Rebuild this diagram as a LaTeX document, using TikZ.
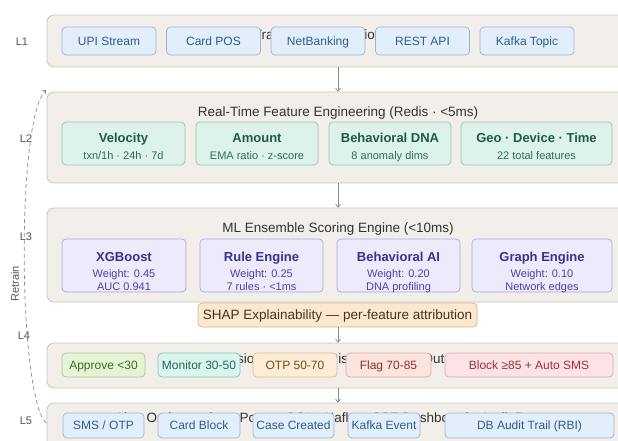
\documentclass[tikz,border=0pt]{standalone}
\usepackage{fontspec}
\setmainfont{Liberation Sans}
\usetikzlibrary{arrows.meta}
\definecolor{layfill}{HTML}{F2EFEA}
\definecolor{laybd}{HTML}{C8C4BC}
\definecolor{bluefill}{HTML}{E3EEFB}
\definecolor{bluebd}{HTML}{9BB4D4}
\definecolor{bluetx}{HTML}{2E5C92}
\definecolor{grnfill}{HTML}{DDF3EA}
\definecolor{grnbd}{HTML}{8FC7AF}
\definecolor{grntx}{HTML}{1F5B44}
\definecolor{grnsub}{HTML}{2F6E56}
\definecolor{purfill}{HTML}{ECEAFB}
\definecolor{purbd}{HTML}{ABA6DB}
\definecolor{purtx}{HTML}{38328F}
\definecolor{pursub}{HTML}{4A44A6}
\definecolor{shapfill}{HTML}{FCE8D1}
\definecolor{shapbd}{HTML}{D8B483}
\definecolor{shaptx}{HTML}{4A3416}
\definecolor{apfill}{HTML}{E6F3D6}\definecolor{apbd}{HTML}{A4C889}\definecolor{aptx}{HTML}{3E6A1F}
\definecolor{mofill}{HTML}{DCF4EE}\definecolor{mobd}{HTML}{80C5B1}\definecolor{motx}{HTML}{1D6957}
\definecolor{otfill}{HTML}{FDECD8}\definecolor{otbd}{HTML}{DFBD8F}\definecolor{ottx}{HTML}{7B4B12}
\definecolor{flfill}{HTML}{FCE4DF}\definecolor{flbd}{HTML}{DFA99F}\definecolor{fltx}{HTML}{8F3023}
\definecolor{blfill}{HTML}{FCE3E5}\definecolor{blbd}{HTML}{E2A7AC}\definecolor{bltx}{HTML}{9E2F39}
\definecolor{titletx}{HTML}{333333}
\definecolor{lbltx}{HTML}{555555}
\definecolor{arr}{HTML}{8A8A8A}
\begin{document}
\begin{tikzpicture}[x=1pt,y=-1pt,
  layer/.style={draw=laybd, fill=layfill, rounded corners=7pt, line width=0.8pt, inner sep=0pt, minimum width=582pt},
  ltitle/.style={text=titletx, font=\fontsize{13.5}{15}\selectfont, inner sep=0pt, anchor=base},
  chip/.style={rounded corners=4pt, line width=0.7pt, inner sep=0pt, text height=8.6pt, text depth=0pt, font=\fontsize{12}{14}\selectfont},
  bluech/.style={chip, draw=bluebd, fill=bluefill, text=bluetx},
  grnch/.style={chip, draw=grnbd, fill=grnfill},
  purch/.style={chip, draw=purbd, fill=purfill},
  gtitle/.style={inner sep=0pt, anchor=base, text=grntx, font=\bfseries\fontsize{13}{15}\selectfont},
  gsub/.style={inner sep=0pt, anchor=base, text=grnsub, font=\fontsize{11}{13}\selectfont},
  ptitle/.style={inner sep=0pt, anchor=base, text=purtx, font=\bfseries\fontsize{13}{15}\selectfont},
  psub/.style={inner sep=0pt, anchor=base, text=pursub, font=\fontsize{11}{13}\selectfont},
  lbl/.style={inner sep=0pt, text=lbltx, font=\fontsize{11}{13}\selectfont},
  flow/.style={draw=arr, line width=0.7pt, -{Straight Barb[length=3pt,width=5pt]}},
  retrain/.style={draw=arr, line width=0.7pt, dash pattern=on 4pt off 3pt, -{Straight Barb[length=3pt,width=5pt]}}
]
\useasboundingbox (0,0) rectangle (618,440);
% layers
\node[layer, minimum height=52pt] (c1) at (338,41) {};
\node[layer, minimum height=91pt] (c2) at (338,137.5) {};
\node[layer, minimum height=94pt] (c3) at (338,255) {};
\node[layer, minimum height=45pt] (c4) at (338,365.5) {};
\node[layer, minimum height=64pt] (c5) at (338,435) {};
% layer titles
\node[ltitle] (t1) at (337,39.5) {Transaction Ingestion Layer};
\node[ltitle] (t2) at (338,116.5) {Real-Time Feature Engineering (Redis · <5ms)};
\node[ltitle] (t3) at (338,232.5) {ML Ensemble Scoring Engine (<10ms)};
\node[ltitle, anchor=base west] (t4) at (210,363.5) {Decision Engine — Risk Threshold Output};
\node[ltitle, anchor=base west] (t5) at (115,422.5) {Alert Orchestration · PostgreSQL · Kafka · SSE Dashboard · Audit Report};
% L1 chips
\node[bluech, minimum width=94pt, minimum height=28pt] (upi) at (109,41) {UPI Stream};
\node[bluech, minimum width=94pt, minimum height=28pt] (pos) at (213.5,41) {Card POS};
\node[bluech, minimum width=94pt, minimum height=28pt] (net) at (318,41) {NetBanking};
\node[bluech, minimum width=94pt, minimum height=28pt] (rest) at (422.5,41) {REST API};
\node[bluech, minimum width=94pt, minimum height=28pt] (kin) at (527,41) {Kafka Topic};
% L2 chips
\node[grnch, minimum width=123pt, minimum height=43pt] (vel) at (123.5,143.5) {};
\node[grnch, minimum width=122pt, minimum height=43pt] (amt) at (257,143.5) {};
\node[grnch, minimum width=122pt, minimum height=43pt] (dna) at (390,143.5) {};
\node[grnch, minimum width=151pt, minimum height=43pt] (geo) at (536.5,143.5) {};
\node[gtitle] (velt) at (123.5,142.5) {Velocity};
\node[gsub] (vels) at (123.5,159) {txn/1h · 24h · 7d};
\node[gtitle] (amtt) at (257,142.5) {Amount};
\node[gsub] (amts) at (257,159) {EMA ratio · z-score};
\node[gtitle] (dnat) at (390,142.5) {Behavioral DNA};
\node[gsub] (dnas) at (390,159) {8 anomaly dims};
\node[gtitle] (geot) at (536.5,142.5) {Geo · Device · Time};
\node[gsub] (geos) at (536.5,159) {22 total features};
% L3 chips
\node[purch, minimum width=124pt, minimum height=53pt] (xgb) at (124,265.5) {};
\node[purch, minimum width=123pt, minimum height=53pt] (rule) at (261.5,265.5) {};
\node[purch, minimum width=123pt, minimum height=53pt] (bai) at (398.5,265.5) {};
\node[purch, minimum width=140pt, minimum height=53pt] (graph) at (542,265.5) {};
\node[ptitle] (xgbt) at (124,261.5) {XGBoost};
\node[psub] (xgbw) at (124,277) {Weight: 0.45};
\node[psub] (xgbs) at (124,290) {AUC 0.941};
\node[ptitle] (rulet) at (261.5,261.5) {Rule Engine};
\node[psub] (rulew) at (261.5,277) {Weight: 0.25};
\node[psub] (rules) at (261.5,290) {7 rules · <1ms};
\node[ptitle] (bait) at (398.5,261.5) {Behavioral AI};
\node[psub] (baiw) at (398.5,277) {Weight: 0.20};
\node[psub] (bais) at (398.5,290) {DNA profiling};
\node[ptitle] (grapht) at (542,261.5) {Graph Engine};
\node[psub] (graphw) at (542,277) {Weight: 0.10};
\node[psub] (graphs) at (542,290) {Network edges};
% SHAP
\node[chip, draw=shapbd, fill=shapfill, text=shaptx, font=\fontsize{13.5}{15}\selectfont, text height=9.6pt, minimum width=279pt, minimum height=24pt] (shap) at (337.5,315) {SHAP Explainability — per-feature attribution};
% L4 chips
\node[chip, draw=apbd, fill=apfill, text=aptx, minimum width=83pt, minimum height=24pt] (appr) at (103.5,365) {Approve <30};
\node[chip, draw=mobd, fill=mofill, text=motx, minimum width=82pt, minimum height=24pt] (mon) at (199,365) {Monitor 30-50};
\node[chip, draw=otbd, fill=otfill, text=ottx, minimum width=84pt, minimum height=24pt] (otp) at (295,365) {OTP 50-70};
\node[chip, draw=flbd, fill=flfill, text=fltx, minimum width=85pt, minimum height=24pt] (flag) at (388.5,365) {Flag 70-85};
\node[chip, draw=blbd, fill=blfill, text=bltx, minimum width=168pt, minimum height=24pt] (block) at (529,365) {Block ≥85 + Auto SMS};
% L5 chips
\node[bluech, minimum width=81pt, minimum height=25pt] (sms) at (103.5,425.5) {SMS / OTP};
\node[bluech, minimum width=82pt, minimum height=25pt] (cblk) at (199,425.5) {Card Block};
\node[bluech, minimum width=81pt, minimum height=25pt] (case) at (293.5,425.5) {Case Created};
\node[bluech, minimum width=72pt, minimum height=25pt] (kev) at (384,425.5) {Kafka Event};
\node[bluech, minimum width=169pt, minimum height=25pt] (audit) at (529.5,425.5) {DB Audit Trail (RBI)};
% flow arrows
\draw[flow] (c1.south) -- (c2.north);
\draw[flow] (c2.south) -- (c3.north);
\draw[flow] (shap.south -| c4.north) -- (c4.north);
\draw[flow] (c4.south) -- (c5.north);
% level labels
\node[lbl] (l1) at (22,42) {L1};
\node[lbl] (l2) at (26,139) {L2};
\node[lbl] (l3) at (26,237) {L3};
\node[lbl] (l4) at (24,336) {L4};
\node[lbl] (l5) at (26,421) {L5};
\node[lbl, rotate=90] (rt) at (15,284) {Retrain};
% retrain loop
\coordinate (rs) at (46,423);
\coordinate (re) at (46,90);
\draw[retrain] (rs) .. controls (18,395) and (16,120) .. (re);
\end{tikzpicture}
\end{document}
